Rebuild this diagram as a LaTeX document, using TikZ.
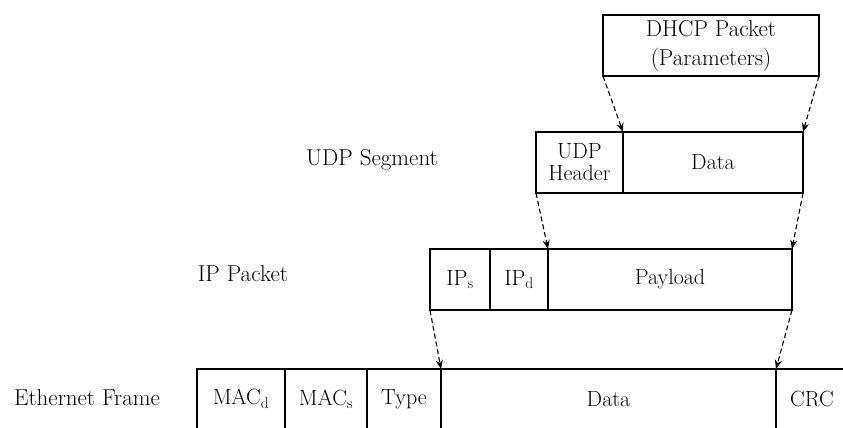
\documentclass[tikz,border=0pt]{standalone}
\usepackage{fontspec}
\usepackage{tikz}
\usetikzlibrary{positioning,arrows.meta}

\begin{document}
\begin{tikzpicture}[
        x=1pt, y=-1pt,
        field/.style={rectangle, draw=black, line width=1.6pt, outer sep=0pt, inner sep=2pt, minimum height=61pt, align=center, font=\fontsize{22}{22}\selectfont},
        layer/.style={font=\fontsize{23}{26}\selectfont},
        encap/.style={-{Stealth[length=9pt, width=7pt]}, line width=1.1pt, dash pattern=on 5pt off 3pt}
      ]
        \useasboundingbox (0,0) rectangle (843,428);
        \clip (0,0) rectangle (843,428);

        % DHCP
        \node[field, minimum width=216pt, anchor=north west, font=\fontsize{23}{29}\selectfont]  (dhcp)  at (603,15)  {DHCP Packet\\(Parameters)};

        % UDP
        \node[layer]  (udplabel)  at (372,160)  {UDP Segment};
        \node[field, minimum width=87pt, anchor=north west]  (udphead)  at (536,132)  {UDP\\Header};
        \node[field, minimum width=180pt, right=0pt of udphead]  (udpdata)  {Data};

        % IP
        \node[layer]  (iplabel)  at (243,274)  {IP Packet};
        \node[field, minimum width=60pt, anchor=north west]  (ips)  at (430,249)  {IP\textsubscript{s}};
        \node[field, minimum width=58pt, right=0pt of ips]  (ipd)  {IP\textsubscript{d}};
        \node[field, minimum width=244pt, right=0pt of ipd]  (payload)  {Payload};

        % Ethernet
        \node[layer]  (ethlabel)  at (87,398)  {Ethernet Frame};
        \node[field, minimum width=88pt, minimum height=60pt, anchor=north west]  (macd)  at (197,369)  {MAC\textsubscript{d}};
        \node[field, minimum width=82pt, minimum height=60pt, right=0pt of macd]  (macs)  {MAC\textsubscript{s}};
        \node[field, minimum width=74pt, minimum height=60pt, right=0pt of macs]  (type)  {Type};
        \node[field, minimum width=335pt, minimum height=60pt, right=0pt of type]  (ethdata)  {Data};
        \node[field, minimum width=72pt, minimum height=60pt, right=0pt of ethdata]  (crc)  {CRC};

        \draw[encap]  (dhcp.south west) -- (udpdata.north west);
        \draw[encap]  (dhcp.south east) -- (udpdata.north east);
        \draw[encap]  (udphead.south west) -- (payload.north west);
        \draw[encap]  (udpdata.south east) -- (payload.north east);
        \draw[encap]  (ips.south west) -- (ethdata.north west);
        \draw[encap]  (payload.south east) -- (ethdata.north east);
      \end{tikzpicture}
\end{document}
